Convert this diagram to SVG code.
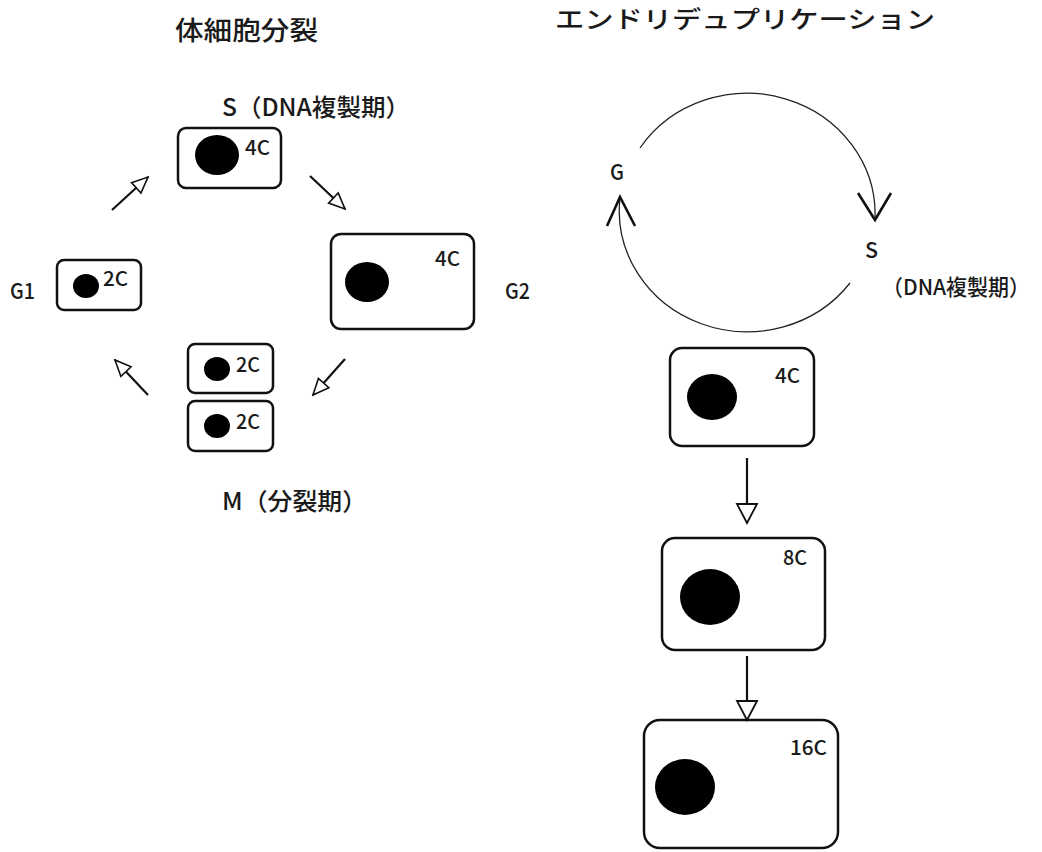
<svg xmlns="http://www.w3.org/2000/svg" width="1042" height="852" viewBox="0 0 1042 852">
<defs>
<style>
.t{font-family:"Noto Sans CJK JP","Liberation Sans",sans-serif;fill:#1a1a1a;font-weight:500;}
.cell{fill:#fff;stroke:#111;stroke-width:2.5;}
.nuc{fill:#000;}
.ln{stroke:#111;stroke-width:2.2;fill:none;}
.arc{stroke:#222;stroke-width:1.3;fill:none;}
.v{stroke:#111;stroke-width:2.6;fill:none;stroke-linejoin:miter;}
</style>
<marker id="hs" markerUnits="userSpaceOnUse" markerWidth="20" markerHeight="18" refX="16" refY="7" orient="auto" viewBox="-2 -2 20 18">
<path d="M0,0 L16,7 L0,14 z" fill="#fff" stroke="#111" stroke-width="1.6" stroke-linejoin="miter"/>
</marker>
<marker id="hb" markerUnits="userSpaceOnUse" markerWidth="24" markerHeight="26" refX="19" refY="10" orient="auto" viewBox="-2 -2 24 26">
<path d="M0,0 L19,10 L0,20 z" fill="#fff" stroke="#111" stroke-width="1.8" stroke-linejoin="miter"/>
</marker>
</defs>
<rect width="1042" height="852" fill="#fff"/>

<g id="titles">
<text class="t" x="175" y="40" font-size="26" textLength="143" lengthAdjust="spacingAndGlyphs">体細胞分裂</text>
<text class="t" x="555" y="28" font-size="24" textLength="380" lengthAdjust="spacingAndGlyphs">エンドリデュプリケーション</text>
</g>

<g id="somatic-labels">
<text class="t" x="222" y="116" font-size="24" textLength="188" lengthAdjust="spacingAndGlyphs">S（DNA複製期）</text>
<text class="t" x="10" y="299" font-size="22" textLength="25" lengthAdjust="spacingAndGlyphs">G1</text>
<text class="t" x="505" y="299" font-size="22" textLength="25" lengthAdjust="spacingAndGlyphs">G2</text>
<text class="t" x="222" y="510" font-size="24" textLength="145" lengthAdjust="spacingAndGlyphs">M（分裂期）</text>
</g>

<g id="cell-S">
<rect class="cell" x="178" y="128" width="103" height="60" rx="8"/>
<ellipse class="nuc" cx="217" cy="155" rx="22" ry="20"/>
<text class="t" x="245" y="155" font-size="20" textLength="25" lengthAdjust="spacingAndGlyphs">4C</text>
</g>

<g id="cell-G2">
<rect class="cell" x="331" y="234" width="143" height="95" rx="10"/>
<ellipse class="nuc" cx="367" cy="282" rx="22" ry="20"/>
<text class="t" x="435" y="266" font-size="20" textLength="25" lengthAdjust="spacingAndGlyphs">4C</text>
</g>

<g id="cell-G1">
<rect class="cell" x="57" y="260" width="84" height="50" rx="7"/>
<ellipse class="nuc" cx="86" cy="286" rx="13" ry="12"/>
<text class="t" x="103" y="286" font-size="20" textLength="25" lengthAdjust="spacingAndGlyphs">2C</text>
</g>

<g id="cell-M1">
<rect class="cell" x="188" y="344" width="85" height="49" rx="7"/>
<ellipse class="nuc" cx="217" cy="369" rx="13" ry="12"/>
<text class="t" x="236" y="372" font-size="20" textLength="24" lengthAdjust="spacingAndGlyphs">2C</text>
</g>

<g id="cell-M2">
<rect class="cell" x="188" y="401" width="85" height="50" rx="7"/>
<ellipse class="nuc" cx="217" cy="426" rx="13" ry="12"/>
<text class="t" x="236" y="429" font-size="20" textLength="24" lengthAdjust="spacingAndGlyphs">2C</text>
</g>

<g id="endo-labels">
<text class="t" x="610" y="180" font-size="22" textLength="14" lengthAdjust="spacingAndGlyphs">G</text>
<text class="t" x="865" y="258" font-size="22" textLength="13" lengthAdjust="spacingAndGlyphs">S</text>
<text class="t" x="882" y="295" font-size="22" textLength="148" lengthAdjust="spacingAndGlyphs">（DNA複製期）</text>
</g>

<g id="cell-4C">
<rect class="cell" x="670" y="348" width="144" height="98" rx="12"/>
<ellipse class="nuc" cx="712" cy="397" rx="25" ry="23"/>
<text class="t" x="775" y="383" font-size="20" textLength="25" lengthAdjust="spacingAndGlyphs">4C</text>
</g>

<g id="cell-8C">
<rect class="cell" x="662" y="538" width="163" height="112" rx="13"/>
<ellipse class="nuc" cx="710" cy="597" rx="30" ry="28"/>
<text class="t" x="783" y="565" font-size="20" textLength="24" lengthAdjust="spacingAndGlyphs">8C</text>
</g>

<g id="cell-16C">
<rect class="cell" x="644" y="720" width="194" height="128" rx="16"/>
<ellipse class="nuc" cx="685" cy="787" rx="30" ry="28"/>
<text class="t" x="790" y="755" font-size="20" textLength="37" lengthAdjust="spacingAndGlyphs">16C</text>
</g>

<g id="connectors">
<line class="ln" x1="112" y1="210" x2="148" y2="177" marker-end="url(#hs)"/>
<line class="ln" x1="310" y1="176" x2="345" y2="209" marker-end="url(#hs)"/>
<line class="ln" x1="345" y1="359" x2="313" y2="395" marker-end="url(#hs)"/>
<line class="ln" x1="148" y1="395" x2="115" y2="360" marker-end="url(#hs)"/>
<path class="arc" d="M640,148 A128,121 0 0,1 875,219"/>
<path class="arc" d="M850,283 A128,121 0 0,1 620,198"/>
<polyline class="v" points="858,193 875,220 891,193"/>
<polyline class="v" points="607,226 620,197 635,226"/>
<line class="ln" x1="747" y1="458" x2="747" y2="523" stroke-width="2.6" marker-end="url(#hb)"/>
<line class="ln" x1="747" y1="656" x2="747" y2="720" stroke-width="2.6" marker-end="url(#hb)"/>
</g>
</svg>
